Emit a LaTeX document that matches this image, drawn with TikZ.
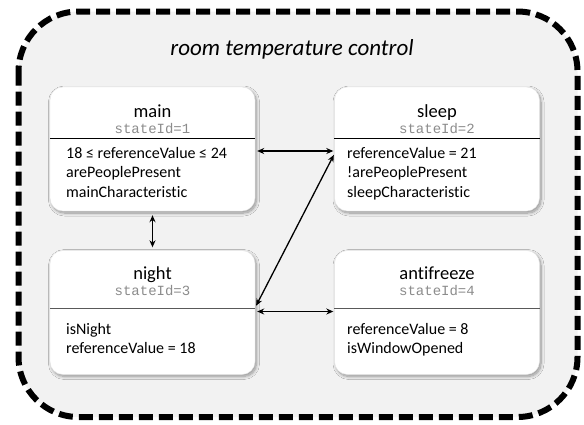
\documentclass[tikz,border=0pt]{standalone}
\usepackage{fontspec}
\setmainfont{Carlito}[Ligatures=CommonOff]
\newfontfamily\monofnt{Liberation Mono}
\usetikzlibrary{shadows.blur,arrows.meta,calc}
\tikzset{
  statebox/.style={rectangle, rounded corners=13pt, fill=white, draw=black!10,
    minimum width=205pt, minimum height=124pt, inner sep=0pt,
    blur shadow={shadow xshift=1.5pt, shadow yshift=-2pt, shadow blur radius=3pt, shadow blur steps=10, shadow opacity=40}},
  heading/.style={anchor=base, inner sep=0pt, font=\fontsize{18.5}{22}\selectfont},
  sid/.style={anchor=base, inner sep=0pt, text=black!45, font=\monofnt\fontsize{14}{16}\selectfont},
  body/.style={anchor=base west, inner sep=0pt, font=\fontsize{16}{19.5}\selectfont},
  conn/.style={line width=1.3pt, {Stealth[length=7pt,width=6pt]}-{Stealth[length=7pt,width=6pt]}},
  divider/.style={line width=0.9pt},
  outer/.style={line width=6pt, dash pattern=on 14pt off 6pt, fill=black!5, rounded corners=60pt},
}
\begin{document}
\begin{tikzpicture}[x=1pt,y=-1pt]
\useasboundingbox (0,0) rectangle (584,424);
\draw[outer] (18.5,11.5) rectangle (577.5,417);
\node[inner sep=0pt, anchor=base, font=\itshape\fontsize{23}{27}\selectfont] (title) at (292,55) {room temperature control};

\node[statebox] (main) at (152.5,149) {};
\node[statebox] (sleep) at (437,149) {};
\node[statebox] (night) at (152.5,312.5) {};
\node[statebox] (anti) at (437,312.5) {};

\draw[divider] ($(main.north west)+(0,52)$) -- ($(main.north east)+(0,52)$);
\draw[divider] ($(sleep.north west)+(0,52)$) -- ($(sleep.north east)+(0,52)$);
\draw[divider, black!65] ($(night.north west)+(0,58)$) -- ($(night.north east)+(0,58)$);
\draw[divider, black!65] ($(anti.north west)+(0,58)$) -- ($(anti.north east)+(0,58)$);

\node[heading] (mainh) at (152.5,117) {main};
\node[sid] (mainid) at (152.5,133) {stateId=1};
\node[body] (main1) at (66,158) {18 ≤ referenceValue ≤ 24};
\node[body] (main2) at (66,177.5) {arePeoplePresent};
\node[body] (main3) at (66,197) {mainCharacteristic};

\node[heading] (sleeph) at (437,117) {sleep};
\node[sid] (sleepid) at (437,133) {stateId=2};
\node[body] (sleep1) at (347,158) {referenceValue = 21};
\node[body] (sleep2) at (347,177.5) {!arePeoplePresent};
\node[body] (sleep3) at (347,197) {sleepCharacteristic};

\node[heading] (nighth) at (152.5,279) {night};
\node[sid] (nightid) at (152.5,295) {stateId=3};
\node[body] (night1) at (66,334) {isNight};
\node[body] (night2) at (66,353.5) {referenceValue = 18};

\node[heading] (antih) at (437,279) {antifreeze};
\node[sid] (antiid) at (437,295) {stateId=4};
\node[body] (anti1) at (347,334) {referenceValue = 8};
\node[body] (anti2) at (347,353.5) {isWindowOpened};

\draw[conn, shorten <=2pt, shorten >=1pt] ([yshift=-2pt]main.east) -- ([yshift=-2pt]sleep.west);
\draw[conn, shorten <=4pt, shorten >=3pt] (main.south) -- (night.north);
\draw[conn, shorten <=2pt, shorten >=1pt] ([yshift=5pt]night.east) -- ([yshift=-5pt]sleep.west);
\draw[conn, shorten <=2pt, shorten >=1pt] ([yshift=1pt]night.east) -- ([yshift=1pt]anti.west);
\end{tikzpicture}
\end{document}
